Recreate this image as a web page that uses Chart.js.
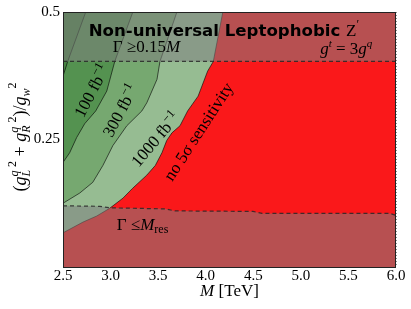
<!DOCTYPE html>
<html>
<head>
<meta charset="utf-8">
<script src="https://cdn.jsdelivr.net/npm/chart.js@4.4.1/dist/chart.umd.min.js"></script>
<style>
  html, body { margin: 0; padding: 0; background: #fff; }
  #wrap { width: 411px; height: 309px; }
</style>
</head>
<body>
<div id="wrap"><canvas id="chart"></canvas></div>
<script>
// axis ticks
const massTicks = [2.5, 3.0, 3.5, 4.0, 4.5, 5.0, 5.5, 6.0];
const couplingTicks = [0.25, 0.5];

// region edges as [M (TeV), coupling]
const noSensEdge = [[2.5, 0.067], [2.71, 0.088], [2.855, 0.100], [2.99, 0.115], [3.13, 0.135], [3.23, 0.154],
  [3.38, 0.180], [3.47, 0.199], [3.54, 0.224], [3.59, 0.248], [3.645, 0.263], [3.73, 0.277], [3.81, 0.306],
  [3.92, 0.335], [4.02, 0.384], [4.08, 0.403], [4.18, 0.5]];
const lumi300Edge = [[2.5, 0.125], [2.676, 0.145], [2.813, 0.166], [2.919, 0.199], [3.024, 0.238], [3.171, 0.277],
  [3.329, 0.306], [3.381, 0.322], [3.488, 0.368], [3.519, 0.403], [3.697, 0.5]];
const lumi100Edge = [[2.5, 0.205], [2.57, 0.224], [2.644, 0.254], [2.728, 0.281], [2.844, 0.306], [2.96, 0.345],
  [3.044, 0.403], [3.234, 0.5]];
const lumi30Edge = [[2.5, 0.374], [2.549, 0.403], [2.739, 0.5]];
const widthHigh = 0.403; // Gamma >= 0.15 M
const widthLow = [[2.5, 0.120], [2.886, 0.119], [2.992, 0.116], [3.571, 0.114], [3.677, 0.110], [4.497, 0.109],
  [4.592, 0.105], [5.94, 0.105], [6.0, 0.101]];

const pts = a => a.map(([x, y]) => ({ x, y }));
const shade = 'rgba(128,128,128,0.55)';
const edge = 'rgba(0,0,0,0.75)';

const serif = '"Liberation Serif"';
const R = (t, size, dy) => ({ t, f: size + 'px ' + serif, dy: dy || 0 });
const I = (t, size, dy) => ({ t, f: 'italic ' + size + 'px ' + serif, dy: dy || 0 });

function drawRich(ctx, segs, x, y, angle, align, yOff) {
  let end = 0, prev = 0;
  const placed = [];
  for (const s of segs) {
    ctx.font = s.f;
    const w = ctx.measureText(s.t).width;
    const sx = s.under ? prev : end;
    placed.push([s, sx]);
    prev = sx;
    end = Math.max(end, sx + w);
  }
  ctx.save();
  ctx.translate(x, y);
  ctx.rotate(angle || 0);
  ctx.fillStyle = '#000';
  ctx.textBaseline = 'alphabetic';
  ctx.textAlign = 'left';
  const x0 = align === 'center' ? -end / 2 : 0;
  for (const [s, sx] of placed) {
    ctx.font = s.f;
    ctx.fillText(s.t, x0 + sx, s.dy + (yOff || 0));
  }
  ctx.restore();
}

const textPlugin = {
  id: 'texts',
  afterDraw(chart) {
    const ctx = chart.ctx;
    const xs = chart.scales.x, ys = chart.scales.y;
    const px = (a, b) => [xs.getPixelForValue(a), ys.getPixelForValue(b)];
    const area = chart.chartArea;
    const deg = d => d * Math.PI / 180;

    // frame
    ctx.save();
    ctx.strokeStyle = '#222';
    ctx.lineWidth = 1;
    ctx.strokeRect(area.left + 0.5, area.top + 0.5, area.right - area.left - 1, area.bottom - area.top);
    ctx.restore();

    let p = px(2.77, 0.452);
    drawRich(ctx, [{ t: 'Non-universal Leptophobic ', f: 'bold 16.6px "DejaVu Sans"', dy: 0 }, R('Z', 17), R('\u2032', 12, -8)], p[0], p[1]);
    p = px(3.023, 0.421);
    drawRich(ctx, [R('\u0393 ', 17), R('\u2265', 17), R('0.15', 17), I('M', 17)], p[0], p[1]);
    p = px(5.203, 0.417);
    drawRich(ctx, [I('g', 17), I('t', 11, -7), R(' = 3', 17), I('g', 17), I('q', 11, -7)], p[0], p[1]);
    p = px(3.065, 0.0726);
    drawRich(ctx, [R('\u0393 ', 17), R('\u2264', 17), I('M', 17), R('res', 12, 3)], p[0], p[1]);

    p = px(2.807, 0.345);
    drawRich(ctx, [R('100 fb', 17), R('\u22121', 12, -7)], p[0], p[1], deg(-62.6), 'center', 5);
    p = px(3.108, 0.306);
    drawRich(ctx, [R('300 fb', 17), R('\u22121', 12, -7)], p[0], p[1], deg(-62), 'center', 5);
    p = px(3.476, 0.2496);
    drawRich(ctx, [R('1000 fb', 17), R('\u22121', 12, -7)], p[0], p[1], deg(-50), 'center', 5);
    p = px(3.929, 0.265);
    drawRich(ctx, [R('no 5\u03c3 sensitivity', 17)], p[0], p[1], deg(-57), 'center', 5);

    // axis titles
    drawRich(ctx, [I('M', 17), R(' [TeV]', 17)], (area.left + area.right) / 2, 296, 0, 'center');
    drawRich(ctx, [
      R('(', 18), I('g', 18), I('q', 12, -8), Object.assign(I('L', 12, 4), { under: true }), R(' 2', 12, -10),
      R(' + ', 18), I('g', 18), I('q', 12, -8), Object.assign(I('R', 12, 4), { under: true }), R(' 2', 12, -10),
      R(')', 18), R('/', 18), I('g', 18), I('w', 12, 4), R('2', 12, -10)
    ], 26, 137, deg(-90), 'center');
  }
};

new Chart(document.getElementById('chart'), {
  type: 'line',
  data: {
    datasets: [
      { data: pts([[2.5, 0.5], [6.0, 0.5]]), fill: 'start', backgroundColor: 'rgb(250,24,26)', borderWidth: 0, order: 10 },
      { data: pts(noSensEdge), fill: 'end', backgroundColor: 'rgb(150,188,146)', borderColor: edge, borderWidth: 0.8, order: 9 },
      { data: pts(lumi300Edge), fill: 'end', backgroundColor: 'rgb(118,168,112)', borderColor: edge, borderWidth: 0.8, order: 8 },
      { data: pts(lumi100Edge), fill: 'end', backgroundColor: 'rgb(84,146,80)', borderColor: edge, borderWidth: 0.8, order: 7 },
      { data: pts(lumi30Edge), fill: 'end', backgroundColor: 'rgb(72,132,68)', borderColor: edge, borderWidth: 0.8, order: 6 },
      { data: pts([[2.5, 0.5], [6.0, 0.5]]), fill: { value: widthHigh }, backgroundColor: shade, borderWidth: 0, order: 5 },
      { data: pts(widthLow), fill: 'start', backgroundColor: shade, borderColor: 'rgba(40,40,40,0.85)', borderWidth: 1.2, borderDash: [4, 3], order: 4 },
      { data: pts([[2.5, widthHigh], [6.0, widthHigh]]), fill: false, borderColor: 'rgba(40,40,40,0.85)', borderWidth: 1.2, borderDash: [4, 3], order: 3 }
    ]
  },
  options: {
    responsive: true,
    maintainAspectRatio: false,
    animation: false,
    devicePixelRatio: 1,
    layout: { padding: { top: 10, right: 15, left: 0, bottom: 0 } },
    elements: { point: { radius: 0 }, line: { tension: 0 } },
    plugins: { legend: { display: false }, tooltip: { enabled: false } },
    scales: {
      x: {
        type: 'linear', min: 2.5, max: 6.0, z: 1,
        afterBuildTicks: s => { s.ticks = massTicks.map(v => ({ value: v })); },
        afterFit: s => { s.height = 42; },
        ticks: { callback: v => v.toFixed(1), color: '#000', padding: 0, font: { family: serif, size: 15 }, maxRotation: 0 },
        grid: { color: 'rgba(0,0,0,0.45)', drawTicks: false },
        border: { display: false, dash: [1, 2] }
      },
      y: {
        type: 'linear', min: 0, max: 0.5, z: 1,
        afterBuildTicks: s => { s.ticks = couplingTicks.map(v => ({ value: v })); },
        afterFit: s => { s.width = 63; },
        ticks: { callback: v => String(v), color: '#000', padding: 3, font: { family: serif, size: 15 } },
        grid: { color: 'rgba(0,0,0,0.45)', drawTicks: false },
        border: { display: false, dash: [1, 2] }
      }
    }
  },
  plugins: [textPlugin]
});
</script>
</body>
</html>
